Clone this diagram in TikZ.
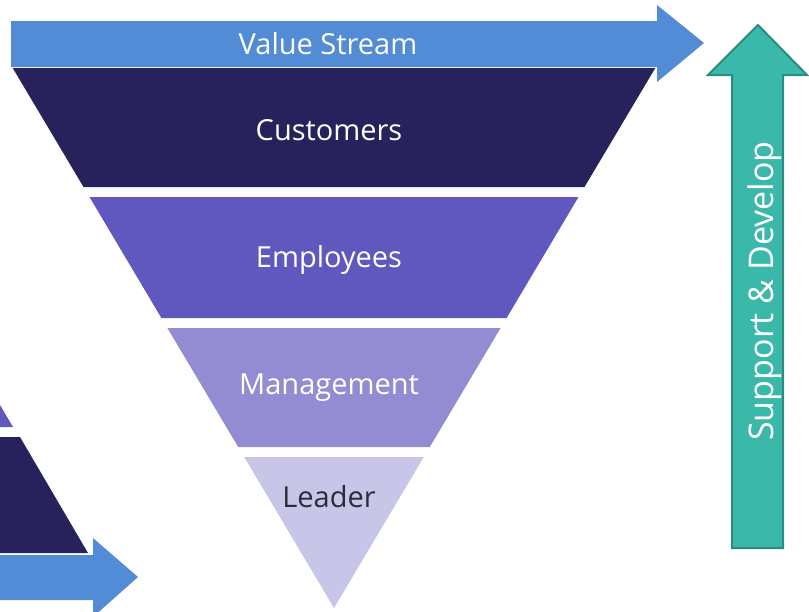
\documentclass[tikz,border=0pt]{standalone}
\usepackage{fontspec}
\setmainfont{Open Sans}
\usepackage{tikz}
\usetikzlibrary{positioning, calc}

\definecolor{streamblue}{RGB}{82,139,214}
\definecolor{tiernavy}{RGB}{40,34,92}
\definecolor{tierviolet}{RGB}{96,88,190}
\definecolor{tierlilac}{RGB}{148,140,210}
\definecolor{tierpale}{RGB}{200,198,232}
\definecolor{supportteal}{RGB}{58,185,170}
\definecolor{supportedge}{RGB}{44,140,128}

\tikzset{
  label text/.style={font=\fontsize{29}{33}\selectfont, text=white, inner sep=0pt},
  dark text/.style={label text, text={rgb,255:red,45;green,42;blue,60}},
  side text/.style={label text, font=\fontsize{34}{38}\selectfont, rotate=90}
}

\begin{document}
\begin{tikzpicture}[x=1pt, y=-1pt]
            \useasboundingbox (0,0) rectangle (809,611);

            % Value stream arrow on top
            \fill[streamblue] (11,21) -- (657,21) -- (657,5) -- (704,43) -- (657,82) -- (657,67) -- (11,67) -- cycle;

            % Inverted pyramid tiers
            \fill[tiernavy] (12.7,68) -- (655.3,68) -- (584.5,187) -- (83.5,187) -- cycle;
            \fill[tierviolet] (89.5,197) -- (578.5,197) -- (506.6,318) -- (161.4,318) -- cycle;
            \fill[tierlilac] (167.4,328) -- (500.6,328) -- (429.8,447) -- (238.2,447) -- cycle;
            \fill[tierpale] (244.2,457) -- (423.8,457) -- (334,608) -- cycle;

            % Support arrow on the right
            \draw[supportedge, fill=supportteal, line width=2pt, line join=miter]
              (732,548) -- (732,75) -- (708,75) -- (758,25) -- (807,75) -- (783,75) -- (783,548) -- cycle;

            % Fragments of a second pyramid at the bottom left
            \fill[tierviolet] (0,405) -- (13,427) -- (0,427) -- cycle;
            \fill[tiernavy] (0,437) -- (20,437) -- (88,553) -- (0,553) -- cycle;
            \fill[streamblue] (0,555) -- (93,555) -- (93,538) -- (138,577) -- (93,617) -- (93,600) -- (0,600) -- cycle;

            % Labels
            \node[label text] (stream) at (328,44) {Value Stream};
            \node[label text] (customers) at (329,130) {Customers};
            \node[label text] (employees) at (329,260) {Employees};
            \node[label text] (management) at (329,388) {Management};
            \node[dark text] (leader) at (329,497) {Leader};
            \node[side text] (support) at (765,291) {Support \& Develop};
          \end{tikzpicture}
\end{document}
